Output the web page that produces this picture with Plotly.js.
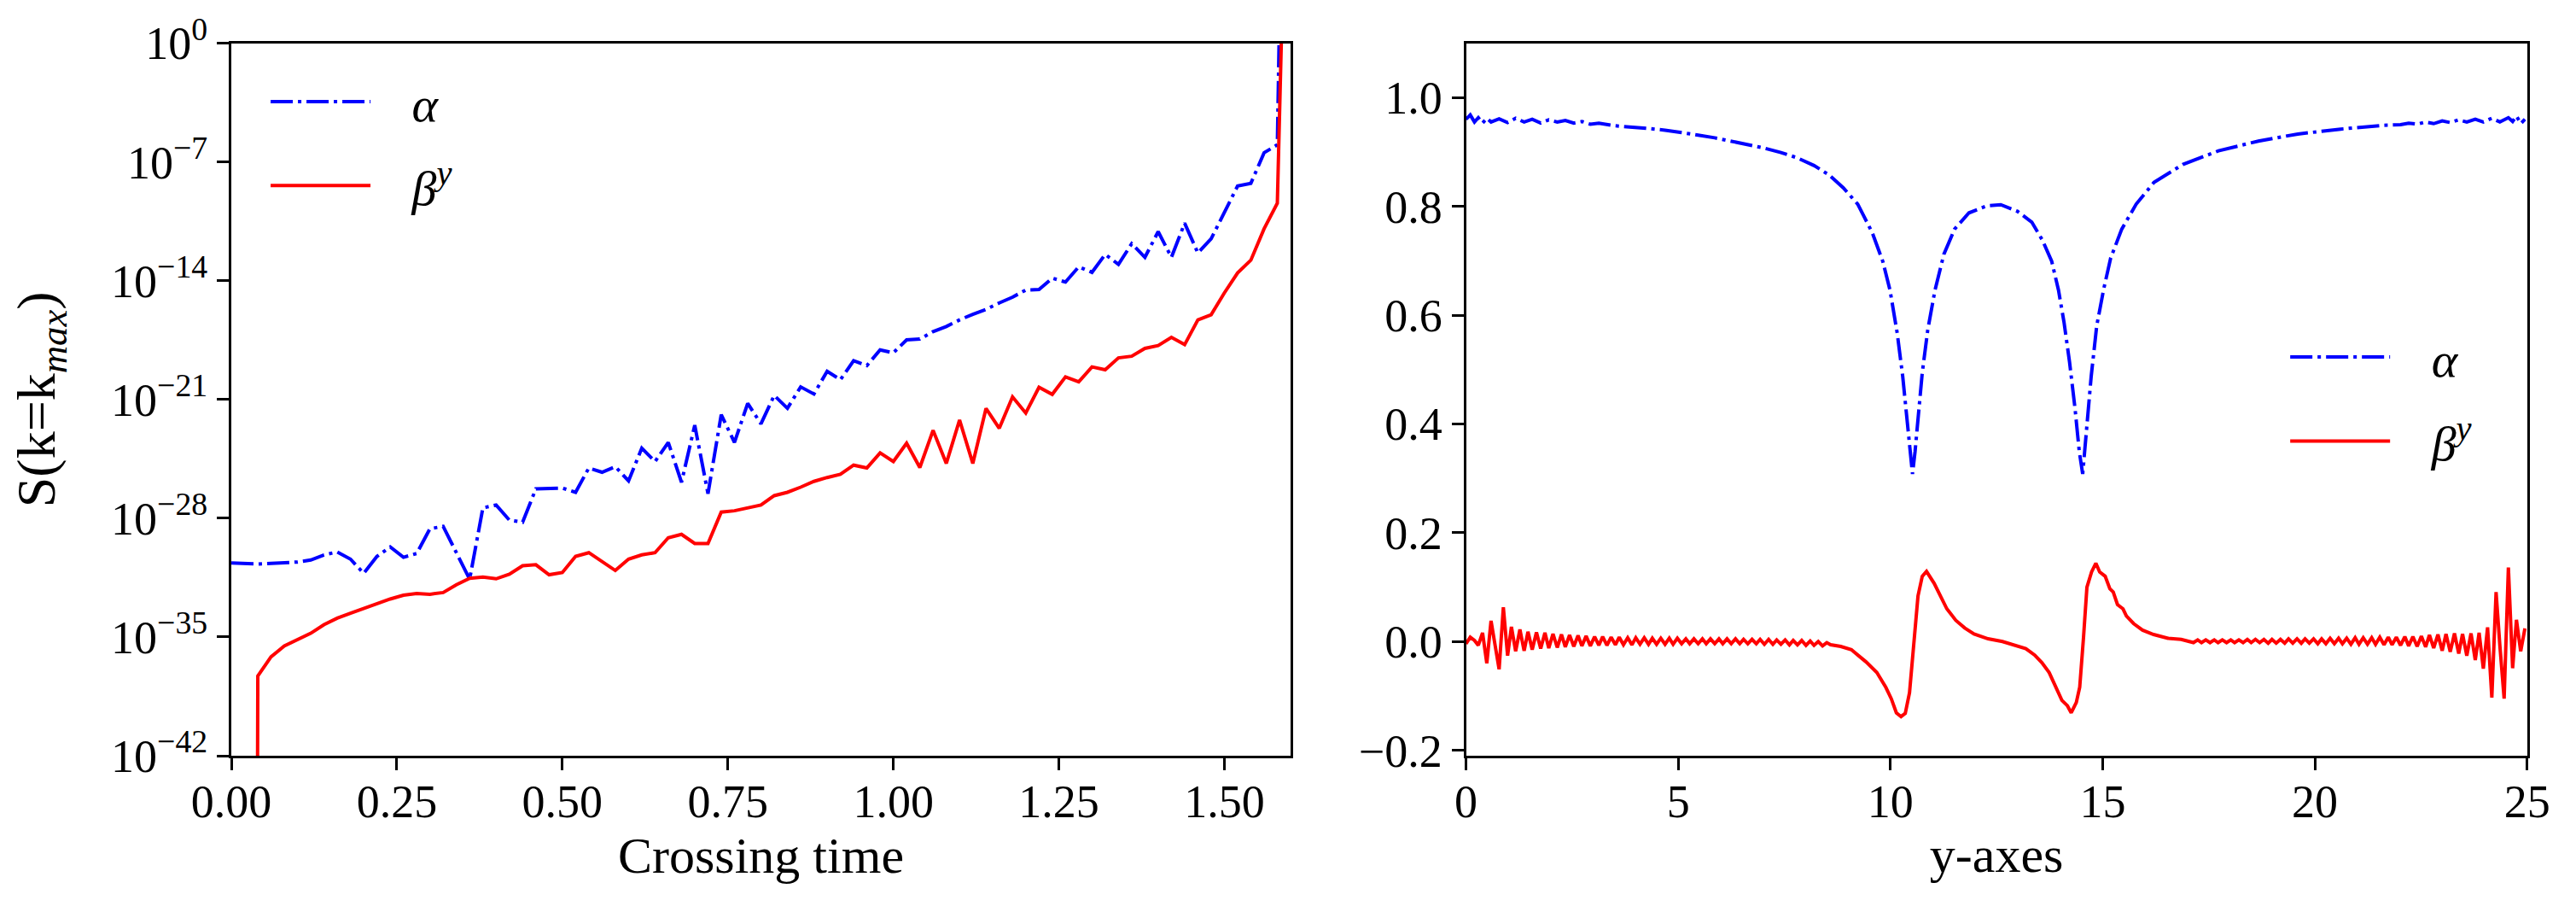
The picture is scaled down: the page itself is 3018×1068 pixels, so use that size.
<!DOCTYPE html>
<html>
<head>
<meta charset="utf-8">
<script src="https://cdn.plot.ly/plotly-3.0.1.min.js"></script>
<style>
  html, body { margin: 0; padding: 0; background: #fff; }
  #plot { width: 3018px; height: 1068px; }
</style>
</head>
<body>
<div id="plot"></div>
<script>
// ---- left panel: S(k=kmax) against crossing time, values kept as log10 ----
var crossingTime = [0.00,0.02,0.04,0.06,0.08,0.10,0.12,0.14,0.16,0.18,
  0.20,0.22,0.24,0.26,0.28,0.30,0.32,0.34,0.36,0.38,
  0.40,0.42,0.44,0.46,0.48,0.50,0.52,0.54,0.56,0.58,
  0.60,0.62,0.64,0.66,0.68,0.70,0.72,0.74,0.76,0.78,
  0.80,0.82,0.84,0.86,0.88,0.90,0.92,0.94,0.96,0.98,
  1.00,1.02,1.04,1.06,1.08,1.10,1.12,1.14,1.16,1.18,
  1.20,1.22,1.24,1.26,1.28,1.30,1.32,1.34,1.36,1.38,
  1.40,1.42,1.44,1.46,1.48,1.50,1.52,1.54,1.56,1.58,
  1.60];

var alphaLogS = [-30.63,-30.66,-30.70,-30.66,-30.62,-30.58,-30.46,-30.16,-29.99,-30.41,
  -31.25,-30.25,-29.69,-30.30,-30.08,-28.62,-28.48,-29.99,-31.59,-27.39,
  -27.22,-28.11,-28.23,-26.27,-26.22,-26.22,-26.47,-25.04,-25.29,-24.96,
  -25.80,-23.87,-24.66,-23.53,-25.88,-22.52,-26.55,-21.90,-23.53,-21.23,
  -22.44,-20.76,-21.52,-20.26,-20.68,-19.34,-19.84,-18.72,-19.00,-18.08,
  -18.25,-17.49,-17.44,-17.00,-16.70,-16.31,-15.98,-15.69,-15.31,-14.97,
  -14.55,-14.52,-13.85,-14.08,-13.18,-13.51,-12.45,-13.04,-11.82,-12.62,
  -11.11,-12.62,-10.61,-12.37,-11.53,-10.02,-8.42,-8.26,-6.46,-5.99,
  40];

// first two beta values are zero in the run (underflow), -300 keeps the drop to the axis
var betaLogS = [-300,-300,-37.30,-36.17,-35.53,-35.16,-34.78,-34.27,-33.89,-33.60,
  -33.32,-33.02,-32.76,-32.54,-32.43,-32.48,-32.38,-31.92,-31.54,-31.47,
  -31.57,-31.30,-30.80,-30.74,-31.33,-31.20,-30.25,-30.03,-30.55,-31.08,
  -30.41,-30.16,-30.03,-29.15,-28.95,-29.49,-29.49,-27.64,-27.56,-27.39,
  -27.22,-26.67,-26.47,-26.17,-25.83,-25.60,-25.41,-24.87,-25.04,-24.15,
  -24.66,-23.58,-25.01,-22.82,-24.77,-22.21,-24.77,-21.53,-22.70,-20.85,
  -21.80,-20.28,-20.70,-19.67,-19.96,-19.08,-19.25,-18.55,-18.45,-17.99,
  -17.82,-17.34,-17.77,-16.31,-16.01,-14.72,-13.54,-12.79,-10.94,-9.43,
  22];

var logTickPowers = [0, -7, -14, -21, -28, -35, -42];

// ---- right panel: profiles along y ----
var alphaY = [0.00,0.10,0.20,0.29,0.39,0.49,0.59,0.78,0.98,1.17,
  1.37,1.56,1.76,1.95,2.15,2.34,2.54,2.73,2.93,3.13,
  3.52,3.91,4.30,4.69,5.08,5.47,5.86,6.25,6.64,7.03,
  7.42,7.81,8.20,8.55,8.89,9.23,9.57,9.82,9.99,10.16,
  10.29,10.37,10.46,10.52,10.58,10.66,10.75,10.88,11.05,11.26,
  11.51,11.85,12.27,12.60,12.99,13.33,13.58,13.80,13.96,14.09,
  14.22,14.35,14.45,14.53,14.62,14.73,14.86,15.02,15.19,15.45,
  15.79,16.21,16.89,17.73,18.67,19.60,20.61,21.63,22.02,22.21,
  22.41,22.61,22.80,23.00,23.19,23.39,23.58,23.78,23.97,24.17,
  24.36,24.56,24.66,24.75,24.85,24.95];
var alphaVal = [0.960,0.968,0.955,0.963,0.953,0.962,0.955,0.961,0.954,0.962,
  0.955,0.960,0.953,0.959,0.955,0.958,0.953,0.956,0.951,0.953,
  0.948,0.946,0.943,0.940,0.936,0.931,0.926,0.920,0.914,0.907,
  0.899,0.889,0.875,0.858,0.834,0.804,0.752,0.699,0.646,0.567,
  0.487,0.421,0.349,0.308,0.349,0.421,0.494,0.573,0.646,0.712,
  0.758,0.788,0.801,0.803,0.791,0.771,0.738,0.699,0.646,0.587,
  0.514,0.428,0.349,0.308,0.388,0.487,0.580,0.646,0.705,0.758,
  0.804,0.844,0.877,0.902,0.920,0.933,0.942,0.949,0.950,0.953,
  0.951,0.955,0.952,0.957,0.954,0.959,0.955,0.960,0.955,0.962,
  0.955,0.963,0.956,0.966,0.952,0.960];

var betaY = [0.00,0.10,0.20,0.29,0.39,0.49,0.59,0.68,0.78,0.88,
  0.98,1.07,1.17,1.27,1.37,1.46,1.56,1.66,1.76,1.86,
  1.95,2.05,2.15,2.25,2.34,2.44,2.54,2.64,2.73,2.83,
  2.93,3.03,3.13,3.22,3.32,3.42,3.52,3.61,3.71,3.81,
  3.91,4.00,4.10,4.20,4.30,4.39,4.49,4.59,4.69,4.79,
  4.88,4.98,5.08,5.18,5.27,5.37,5.47,5.57,5.66,5.76,
  5.86,5.96,6.05,6.15,6.25,6.35,6.45,6.54,6.64,6.74,
  6.84,6.93,7.03,7.13,7.23,7.32,7.42,7.52,7.62,7.71,
  7.81,7.91,8.01,8.11,8.20,8.30,8.40,8.50,8.59,
  8.83,9.08,9.25,9.42,9.68,9.89,10.02,10.14,10.25,10.35,
  10.45,10.54,10.65,10.75,10.85,11.03,11.16,11.33,11.54,11.75,
  11.97,12.30,12.64,12.97,13.19,13.40,13.57,13.74,13.87,14.04,
  14.17,14.26,14.38,14.46,14.55,14.63,14.74,14.84,14.93,15.06,
  15.17,15.25,15.35,15.48,15.56,15.73,15.94,16.20,16.54,16.85,
  17.14,17.24,17.33,17.43,17.53,17.63,17.72,17.82,17.92,18.02,
  18.11,18.21,18.31,18.41,18.50,18.60,18.70,18.80,18.90,18.99,
  19.09,19.19,19.29,19.38,19.48,19.58,19.68,19.77,19.87,19.97,
  20.07,20.16,20.26,20.36,20.46,20.56,20.65,20.75,20.85,20.95,
  21.04,21.14,21.24,21.34,21.43,21.53,21.63,21.73,21.82,21.92,
  22.02,22.12,22.21,22.31,22.41,22.51,22.61,22.70,22.80,22.90,
  23.00,23.09,23.19,23.29,23.39,23.48,23.58,23.68,23.78,23.87,
  23.97,24.07,24.17,24.27,24.36,24.46,24.56,24.66,24.75,24.85,
  24.95];
var betaVal = [-0.004,0.008,0.002,-0.007,0.016,-0.040,0.038,-0.008,-0.051,0.063,
  -0.026,0.027,-0.018,0.022,-0.017,0.018,-0.015,0.017,-0.013,0.016,
  -0.012,0.014,-0.011,0.013,-0.010,0.012,-0.009,0.011,-0.008,0.010,
  -0.008,0.009,-0.007,0.009,-0.007,0.008,-0.006,0.008,-0.006,0.007,
  -0.006,0.007,-0.005,0.007,-0.005,0.006,-0.005,0.006,-0.005,0.006,
  -0.005,0.006,-0.004,0.005,-0.004,0.005,-0.004,0.005,-0.004,0.005,
  -0.004,0.005,-0.004,0.005,-0.004,0.005,-0.004,0.004,-0.004,0.004,
  -0.004,0.004,-0.005,0.004,-0.005,0.003,-0.005,0.003,-0.006,0.002,
  -0.006,0.002,-0.007,0.001,-0.007,0.000,-0.008,-0.002,-0.006,
  -0.009,-0.015,-0.026,-0.037,-0.057,-0.084,-0.105,-0.131,-0.138,-0.132,
  -0.094,-0.013,0.084,0.120,0.129,0.107,0.086,0.060,0.039,0.025,
  0.014,0.005,0.000,-0.007,-0.013,-0.025,-0.039,-0.057,-0.078,-0.108,
  -0.118,-0.131,-0.112,-0.084,0.008,0.100,0.128,0.144,0.128,0.120,
  0.097,0.091,0.068,0.060,0.047,0.033,0.021,0.013,0.006,0.004,
  -0.002,0.003,-0.002,0.003,-0.002,0.003,-0.002,0.003,-0.002,0.003,
  -0.002,0.003,-0.002,0.004,-0.002,0.004,-0.002,0.004,-0.003,0.004,
  -0.003,0.004,-0.003,0.005,-0.003,0.005,-0.003,0.005,-0.003,0.005,
  -0.004,0.005,-0.004,0.006,-0.004,0.006,-0.004,0.006,-0.005,0.007,
  -0.005,0.007,-0.005,0.007,-0.005,0.008,-0.006,0.008,-0.006,0.008,
  -0.007,0.009,-0.008,0.009,-0.009,0.010,-0.010,0.012,-0.012,0.013,
  -0.017,0.014,-0.019,0.015,-0.022,0.014,-0.026,0.015,-0.034,0.016,
  -0.050,0.026,-0.103,0.091,-0.008,-0.105,0.136,-0.049,0.040,-0.018,
  0.024];

var serif = '"Liberation Serif", "DejaVu Serif", serif';
var dashDot = '26px,6px,4px,6px';
var pad = '\u00a0\u00a0\u00a0'; // extra room between legend line and label

// log10 -> actual value for the log axis
function unlog(list) {
  return list.map(function (e) { return Math.pow(10, e); });
}

var traces = [
  { x: crossingTime, y: unlog(alphaLogS), type: 'scatter', mode: 'lines',
    name: pad + '<i>α</i>', xaxis: 'x', yaxis: 'y', legend: 'legend', legendgroup: 'a1',
    line: { color: '#0000ff', width: 4, dash: dashDot } },
  { x: crossingTime, y: unlog(betaLogS), type: 'scatter', mode: 'lines',
    name: pad + '<i>β</i><sup><i>y</i></sup>', xaxis: 'x', yaxis: 'y', legend: 'legend', legendgroup: 'b1',
    line: { color: '#ff0000', width: 4 } },
  { x: alphaY, y: alphaVal, type: 'scatter', mode: 'lines',
    name: pad + '<i>α</i>', xaxis: 'x2', yaxis: 'y2', legend: 'legend2', legendgroup: 'a2',
    line: { color: '#0000ff', width: 4, dash: dashDot } },
  { x: betaY, y: betaVal, type: 'scatter', mode: 'lines',
    name: pad + '<i>β</i><sup><i>y</i></sup>', xaxis: 'x2', yaxis: 'y2', legend: 'legend2', legendgroup: 'b2',
    line: { color: '#ff0000', width: 4 } }
];

// common look of every axis (matplotlib style box, outside ticks)
function axisStyle(extra) {
  var base = {
    showline: true, linecolor: '#000', linewidth: 3, mirror: true,
    ticks: 'outside', ticklen: 14, tickwidth: 3, tickcolor: '#000',
    showgrid: false, zeroline: false, automargin: false,
    tickfont: { family: serif, size: 54, color: '#000' }
  };
  for (var k in extra) base[k] = extra[k];
  return base;
}

var yDomain = [0.1713, 0.9527];

function legendAt(x, y) {
  return {
    x: x, y: y, xanchor: 'left', yanchor: 'top',
    bgcolor: 'rgba(0,0,0,0)', itemwidth: 117,
    traceorder: 'grouped', tracegroupgap: 20,
    font: { family: serif, size: 58, color: '#000' }
  };
}

var layout = {
  width: 3018, height: 1068,
  margin: { l: 0, r: 0, t: 0, b: 0 },
  paper_bgcolor: '#fff', plot_bgcolor: '#fff',
  font: { family: serif, color: '#000' },
  xaxis: axisStyle({
    domain: [0.0898, 0.5010], anchor: 'y', range: [0, 1.6],
    tickmode: 'linear', tick0: 0, dtick: 0.25, tickformat: '.2f',
    ticklabelstandoff: -10,
    title: { text: 'Crossing time', font: { family: serif, size: 60 }, standoff: 12 }
  }),
  yaxis: axisStyle({
    domain: yDomain, anchor: 'x', type: 'log', range: [-42, 0],
    tickmode: 'array',
    tickvals: logTickPowers.map(function (p) { return Math.pow(10, p); }),
    ticktext: logTickPowers.map(function (p) {
      return '10<sup>' + (p < 0 ? '\u2212' + (-p) : p) + '</sup>';
    }),
    title: { text: 'S(k=k<sub><i>max</i></sub>)', font: { family: serif, size: 64 }, standoff: 45 }
  }),
  xaxis2: axisStyle({
    domain: [0.5691, 0.9810], anchor: 'y2', range: [0, 25],
    tickmode: 'linear', tick0: 0, dtick: 5,
    ticklabelstandoff: -10,
    title: { text: 'y-axes', font: { family: serif, size: 60 }, standoff: 12 }
  }),
  yaxis2: axisStyle({
    domain: yDomain, anchor: 'x2', range: [-0.21, 1.1],
    tickmode: 'linear', tick0: 0, dtick: 0.2, tickformat: '.1f'
  }),
  legend: legendAt(0.1034, 0.930),
  legend2: legendAt(0.8874, 0.650),
  showlegend: true
};

Plotly.newPlot('plot', traces, layout, { staticPlot: true });
</script>
</body>
</html>
